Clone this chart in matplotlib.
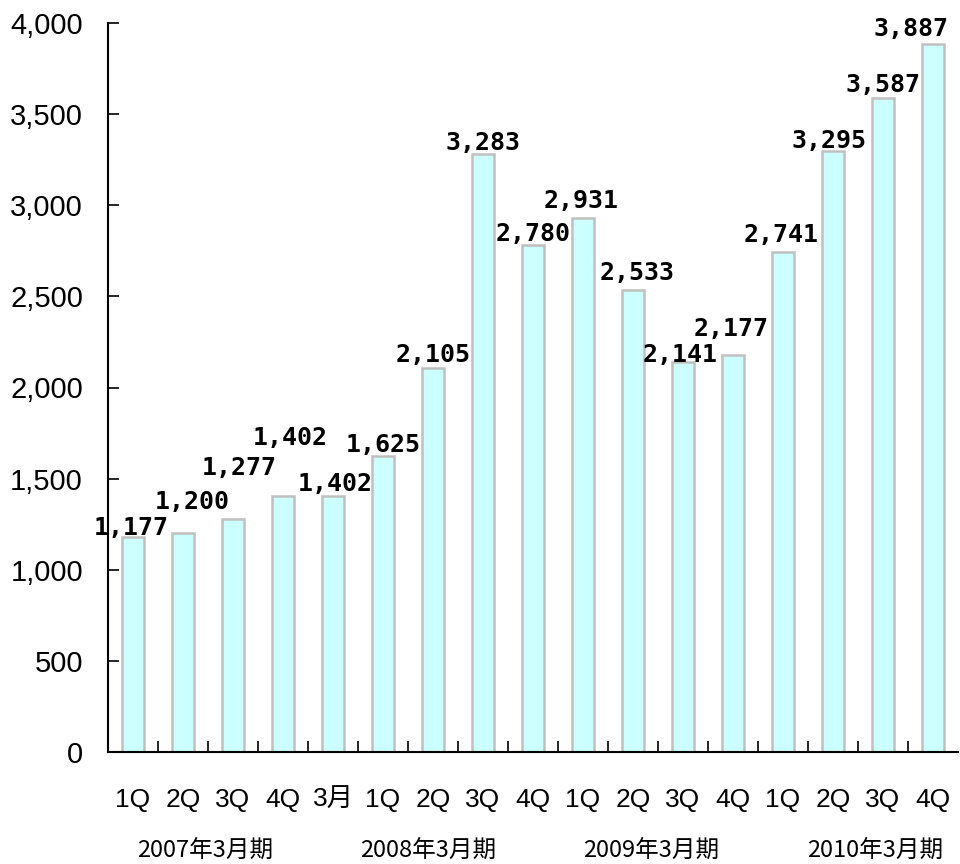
import numpy as np
import matplotlib
matplotlib.use("Agg")
from matplotlib import pyplot as plt

# quarterly values
cats = ["1Q", "2Q", "3Q", "4Q", "3月",
        "1Q", "2Q", "3Q", "4Q",
        "1Q", "2Q", "3Q", "4Q",
        "1Q", "2Q", "3Q", "4Q"]
values = [1177, 1200, 1277, 1402, 1402,
          1625, 2105, 3283, 2780,
          2931, 2533, 2141, 2177,
          2741, 3295, 3587, 3887]
groups = ["2007年3月期", "2008年3月期", "2009年3月期", "2010年3月期"]
group_spans = [(0, 3), (4, 8), (9, 12), (13, 16)]
yticks = [0, 500, 1000, 1500, 2000, 2500, 3000, 3500, 4000]

# label nudges in pixels (dx, gap above bar top), copied from the original layout
label_nudge = [(-2, 2), (9, 24), (6, 44), (7, 51), (2, 5),
               (0, 4), (0, 6), (0, 4), (0, 4),
               (-2, 10), (4, 10), (-3, 0), (-2, 19),
               (-2, 10), (-4, 3), (0, 6), (-22, 8)]
group_nudge = [-3, -5, -7, 17]  # px

plt.rcParams['font.family'] = ['Noto Sans CJK JP', 'DejaVu Sans']

fig = plt.figure(figsize=(9.6, 8.64), dpi=100)
ax = fig.add_axes([108/960, 1-752/864, 850/960, 729/864])

x = np.arange(len(values))
ax.bar(x, values, width=0.44, color="#CCFFFF", edgecolor="#C0C0C0", linewidth=1.8, zorder=2)

ax.set_xlim(-0.5, len(values)-0.5)
ax.set_ylim(0, 4000)
ax.set_yticks(yticks)
ax.set_yticklabels([f"{v:,}" for v in yticks], family="Liberation Sans", fontsize=21)
ax.set_xticks(x)
ax.set_xticklabels(cats, fontsize=19, family=["Liberation Sans", "Noto Sans CJK JP"])
ax.set_xticks(np.arange(len(values)-1)+0.5, minor=True)
ax.tick_params(axis="x", which="major", length=0, pad=26)
ax.tick_params(axis="x", which="minor", direction="in", length=8, width=1.2)
ax.tick_params(axis="y", direction="in", length=8, width=1.2, pad=18)

for s in ["top", "right"]:
    ax.spines[s].set_visible(False)
for s in ["left", "bottom"]:
    ax.spines[s].set_linewidth(1.5)

for i, v in enumerate(values):
    dx, dy = label_nudge[i]
    ax.annotate(f"{v:,}", (i, v), xytext=(dx*0.72, dy*0.72), textcoords="offset points",
                ha="center", va="baseline", family="DejaVu Sans Mono",
                fontweight="bold", fontsize=18, zorder=3)

trans = ax.get_xaxis_transform()
for g, (a, b), nx in zip(groups, group_spans, group_nudge):
    ax.annotate(g, ((a+b)/2, -0.1454), xycoords=trans, xytext=(nx*0.72, 0),
                textcoords="offset points", ha="center", va="baseline", fontsize=17)

fig.savefig("out.png", dpi=100)
